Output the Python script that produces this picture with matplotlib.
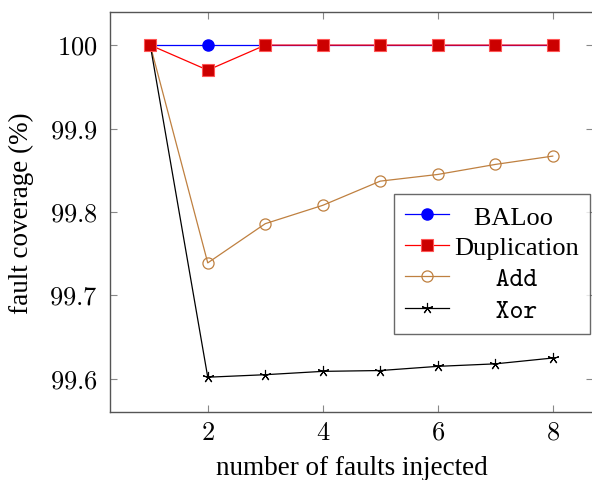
import matplotlib
matplotlib.use("Agg")
import matplotlib.pyplot as plt
from matplotlib.ticker import FuncFormatter

plt.rcParams['mathtext.fontset'] = 'cm'
plt.rcParams['font.family'] = 'Liberation Serif'

# faults injected
faults = [1, 2, 3, 4, 5, 6, 7, 8]

# fault coverage (%) per countermeasure
baloo = [100, 100, 100, 100, 100, 100, 100, 100]
duplication = [100, 99.970, 100, 100, 100, 100, 100, 100]
add = [100, 99.739, 99.786, 99.808, 99.837, 99.845, 99.857, 99.867]
xor = [100, 99.602, 99.605, 99.609, 99.610, 99.615, 99.618, 99.625]

xticks = [2, 4, 6, 8]
yticks = [99.6, 99.7, 99.8, 99.9, 100]

fig = plt.figure(figsize=(5.92, 4.81), dpi=100)
ax = fig.add_axes([110 / 592, 1 - 413 / 481, 483 / 592, 400 / 481])

ax.plot(faults, baloo, color='blue', lw=0.9, marker='o', ms=8,
        mfc='blue', mec='blue', label='   BALoo', zorder=3)
ax.plot(faults, duplication, color='red', lw=0.9, marker='s', ms=8,
        mfc='#cc0000', mec='#ff5555', mew=0.8, label='Duplication', zorder=4)
ax.plot(faults, add, color='#bf8040', lw=0.9, marker='o', ms=8,
        mfc='none', mec='#bf8040', mew=0.9, label='   Add', zorder=2)
ax.plot(faults, xor, color='black', lw=0.9, marker=(5, 2, 0), ms=8,
        mec='black', mew=0.8, label='   Xor', zorder=2)

ax.set_xlim(0.3, 8.7)
ax.set_ylim(99.5603, 100.0397)
ax.set_xticks(xticks)
ax.set_yticks(yticks)
ax.xaxis.set_major_formatter(FuncFormatter(lambda v, p: f"${v:g}$"))
ax.yaxis.set_major_formatter(FuncFormatter(lambda v, p: f"${v:g}$"))
ax.tick_params(direction='in', length=5, width=0.8, color='#888888',
               labelsize=19, top=True, right=True)
ax.tick_params(axis='x', pad=7)
ax.tick_params(axis='y', pad=9)

for s in ax.spines.values():
    s.set_color('#555555')
    s.set_linewidth(1.0)

ax.set_xlabel('number of faults injected', fontsize=19.5, labelpad=8)
ax.set_ylabel('fault coverage (%)', fontsize=19.5, labelpad=11)

leg = ax.legend(loc='upper left', bbox_to_anchor=(0.588, 0.545), fontsize=19,
                frameon=True, fancybox=False, edgecolor='#444444',
                handlelength=1.65, handletextpad=0.22, borderpad=0.42,
                labelspacing=0.28, borderaxespad=0)
leg.get_frame().set_linewidth(1.0)
for t in leg.get_texts()[2:]:
    t.set_fontfamily('cmtt10')

fig.savefig('out.png', dpi=100)
